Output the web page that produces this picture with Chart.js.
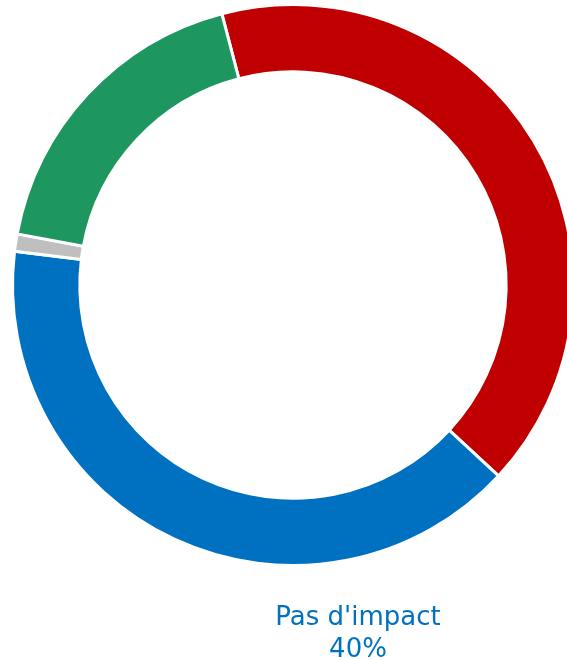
<!DOCTYPE html>
<html>
<head>
<meta charset="utf-8">
<script src="https://cdn.jsdelivr.net/npm/chart.js@4/dist/chart.umd.min.js"></script>
<style>
  html, body { margin: 0; padding: 0; background: #fff; overflow: hidden; }
  #wrap { position: relative; width: 567px; height: 660px; overflow: hidden; }
  #box { position: absolute; left: 0; top: 0; width: 586px; height: 660px; }
</style>
</head>
<body>
<div id="wrap">
  <div id="box"><canvas id="donut"></canvas></div>
</div>
<script>
// Slices, clockwise from the top-left
const categories = ["Impact négatif", "Pas d'impact", "Ne sait pas", "Impact positif"];
const shares = [41, 40, 1, 18];
const colours = ["#C00000", "#0070C0", "#BFBFBF", "#1E9660"];
const startAngle = -14.7;

// Only the "Pas d'impact" label shows in the picture
const labelPlugin = {
  id: "labelPlugin",
  afterDraw(chart) {
    const ctx = chart.ctx;
    const i = categories.indexOf("Pas d'impact");
    ctx.save();
    ctx.fillStyle = colours[i];
    ctx.font = "26px 'DejaVu Sans'";
    ctx.textAlign = "center";
    ctx.textBaseline = "alphabetic";
    ctx.fillText(categories[i], 358, 625);
    ctx.fillText(shares[i] + "%", 358, 657);
    ctx.restore();
  }
};

new Chart(document.getElementById("donut").getContext("2d"), {
  type: "doughnut",
  data: {
    labels: categories,
    datasets: [{
      data: shares,
      backgroundColor: colours,
      borderColor: "#ffffff",
      borderWidth: 3
    }]
  },
  options: {
    responsive: true,
    maintainAspectRatio: false,
    animation: false,
    rotation: startAngle,
    cutout: "76%",
    layout: { padding: { top: 3, bottom: 93, left: 11, right: 11 } },
    plugins: {
      legend: { display: false },
      tooltip: { enabled: false }
    }
  },
  plugins: [labelPlugin]
});
</script>
</body>
</html>
